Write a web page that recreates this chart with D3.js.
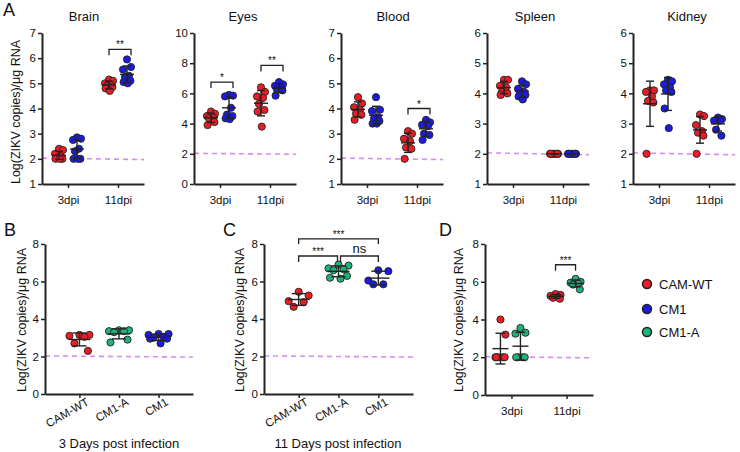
<!DOCTYPE html>
<html><head><meta charset="utf-8">
<script src="https://cdn.jsdelivr.net/npm/d3@7"></script>
<style>body{margin:0;background:#fff}svg{display:block;font-family:"Liberation Sans",Arial,sans-serif}</style>
</head><body><svg id="c" width="740" height="452"></svg>
<script>
// ---------- data ----------
const seriesNames = ["CAM-WT", "CM1", "CM1-A"];
const seriesColors = ["#ec1c24", "#1c1ce0", "#1fb27a"];
const organs = ["Brain", "Eyes", "Blood", "Spleen", "Kidney"];
const dpi = ["3dpi", "11dpi"];
const groupsBC = ["CAM-WT", "CM1-A", "CM1"];

// panel A: [3dpi values, 11dpi values]
const brainWT  = [[2.4, 2.35, 2.2, 2.1, 2.05, 2.0, 2.0, 2.0], [5.15, 5.1, 5.0, 4.95, 4.9, 4.85, 4.8, 4.7]];
const brainCM1 = [[2.85, 2.8, 2.75, 2.4, 2.3, 2.0, 2.0, 2.0], [5.95, 5.65, 5.55, 5.3, 5.25, 5.1, 5.05, 5.0]];
const eyesWT   = [[4.8, 4.65, 4.5, 4.4, 4.35, 4.1, 3.9], [6.4, 6.1, 5.8, 5.7, 5.3, 4.9, 4.8, 3.8]];
const eyesCM1  = [[5.9, 5.85, 5.8, 5.05, 4.6, 4.5, 4.35, 4.3], [6.75, 6.6, 6.5, 6.3, 6.25, 6.2, 5.85]];
const bloodWT  = [[4.45, 4.2, 4.05, 3.95, 3.8, 3.75, 3.55], [3.1, 3.0, 2.8, 2.7, 2.45, 2.4, 2.0]];
const bloodCM1 = [[4.45, 3.95, 3.9, 3.65, 3.6, 3.5, 3.4, 3.4], [3.55, 3.45, 3.35, 3.3, 3.0, 2.95, 2.75]];
const spleenWT = [[4.45, 4.45, 4.25, 4.2, 4.05, 4.0, 3.95], [2.0, 2.0, 2.0, 2.0, 2.0, 2.0, 2.0]];
const spleenCM1= [[4.4, 4.3, 4.15, 4.05, 4.0, 3.95, 3.9, 3.8], [2.0, 2.0, 2.0, 2.0, 2.0, 2.0, 2.0]];
const kidneyWT = [[4.1, 4.1, 4.05, 3.9, 3.75, 3.7, 2.0], [3.3, 3.25, 2.95, 2.75, 2.7, 2.6, 2.0]];
const kidneyCM1= [[4.45, 4.4, 4.3, 4.2, 4.1, 4.05, 3.5, 2.85], [3.2, 3.15, 3.1, 3.1, 2.8, 2.6]];

const brainTicks  = [1, 2, 3, 4, 5, 6, 7];
const eyesTicks   = [0, 2, 4, 6, 8, 10];
const bloodTicks  = [1, 2, 3, 4, 5, 6, 7];
const spleenTicks = [1, 2, 3, 4, 5, 6];
const kidneyTicks = [1, 2, 3, 4, 5, 6];

// significance: [timepoint index, bracket level, label]
const brainSig  = [[1, 6.35, "**"]];
const eyesSig   = [[0, 6.75, "*"], [1, 7.85, "**"]];
const bloodSig  = [[1, 4.0, "*"]];
const spleenSig = [];
const kidneySig = [];

// panel B (3 days) and C (11 days): order CAM-WT, CM1-A, CM1
const bValues = [[3.15, 3.15, 3.1, 3.05, 2.7, 2.3], [3.4, 3.4, 3.35, 3.35, 3.3, 2.9, 2.75], [3.2, 3.2, 3.15, 3.05, 3.0, 2.95, 2.95, 2.7]];
const cValues = [[5.45, 5.25, 4.95, 4.9, 4.65], [6.9, 6.85, 6.7, 6.65, 6.6, 6.3, 6.2, 6.15], [6.6, 6.55, 6.05, 5.85, 5.85]];
const bcTicks = [0, 2, 4, 6, 8];
// C brackets: [from group, to group, level, label]
const cSig = [["CAM-WT", "CM1", 8.27, "***"], ["CAM-WT", "CM1-A", 7.36, "***"], ["CM1-A", "CM1", 7.36, "ns"]];

// panel D: CAM-WT vs CM1-A at 3dpi / 11dpi
const dWT   = [[4.0, 3.2, 2.0, 2.0, 2.0, 2.0, 2.0], [5.35, 5.3, 5.25, 5.2, 5.15, 5.1]];
const dCM1A = [[3.55, 3.3, 3.25, 2.0, 2.0, 2.0, 2.0], [6.15, 6.0, 5.95, 5.9, 5.85, 5.6]];
const dTicks = [0, 2, 4, 6, 8];
const dSig = [[1, 6.9, "***"]];

const lodLine = [2.03, 1.97];
const yLabel = "Log(ZIKV copies)/μg RNA";

// ---------- drawing ----------
const svg = d3.select("#c");
const jitter = [0, 1, -1, 0.5, -0.5, 0.85, -0.85, 0.2, -0.2];

function frame(o) {
  const y = d3.scaleLinear().domain([o.ticks[0], o.ticks[o.ticks.length - 1]]).range([o.yB, o.yT]);
  const x = d3.scalePoint().domain(o.cats).range([o.x0, o.x0 + o.w]).padding(o.pad);
  const g = svg.append("g");
  // LOD line
  g.append("line").attr("x1", o.x0).attr("x2", o.x0 + o.w)
    .attr("y1", y(lodLine[0])).attr("y2", y(lodLine[1]))
    .attr("stroke", "#d68ef2").attr("stroke-width", 1.6).attr("stroke-dasharray", "5,4");
  const ya = g.append("g").attr("transform", `translate(${o.x0},0)`)
    .call(d3.axisLeft(y).tickValues(o.ticks).tickSize(4).tickSizeOuter(0).tickPadding(2).tickFormat(d3.format("d")));
  const xa = g.append("g").attr("transform", `translate(0,${o.yB})`)
    .call(d3.axisBottom(x).tickSize(4).tickSizeOuter(0).tickPadding(o.rotate ? 4 : 8));
  [ya, xa].forEach(a => {
    a.select(".domain").attr("stroke", "#222").attr("stroke-width", 2);
    a.selectAll(".tick line").attr("stroke", "#222").attr("stroke-width", 1.5);
    a.selectAll("text").attr("fill", "#111").style("font-size", "11.5px").style("font-family", "Liberation Sans, Arial, sans-serif");
  });
  if (o.rotate) {
    xa.selectAll("text").attr("text-anchor", "end").attr("dy", "0.5em").attr("dx", "0.3em")
      .attr("transform", "rotate(-30)");
  }
  return { x, y, g };
}

function dots(f, cat, values, color, off, spread, barHalf, capHalf) {
  const cx0 = f.x(cat) + off;
  const sorted = values.slice().sort((a, b) => b - a);
  f.g.append("g").selectAll("circle").data(sorted).join("circle")
    .attr("cx", (d, i) => cx0 + jitter[i % jitter.length] * spread)
    .attr("cy", d => f.y(d)).attr("r", 3.6)
    .attr("fill", color).attr("stroke", "#222").attr("stroke-width", 0.9);
  const m = d3.mean(values), s = d3.deviation(values) || 0;
  const eb = f.g.append("g").attr("stroke", "#222").attr("stroke-width", 1.4);
  eb.append("line").attr("x1", cx0).attr("x2", cx0).attr("y1", f.y(m - s)).attr("y2", f.y(m + s));
  eb.append("line").attr("x1", cx0 - barHalf).attr("x2", cx0 + barHalf).attr("y1", f.y(m)).attr("y2", f.y(m));
  [m - s, m + s].forEach(v => eb.append("line").attr("x1", cx0 - capHalf).attr("x2", cx0 + capHalf).attr("y1", f.y(v)).attr("y2", f.y(v)));
}

function bracket(f, xa, xb, level, label, leg) {
  const yy = f.y(level);
  f.g.append("path").attr("d", `M${xa},${yy + leg}V${yy}H${xb}V${yy + leg}`)
    .attr("fill", "none").attr("stroke", "#222").attr("stroke-width", 1.3);
  const ns = label === "ns";
  f.g.append("text").attr("x", (xa + xb) / 2).attr("y", yy - (ns ? 3 : 1)).attr("text-anchor", "middle")
    .style("font-size", ns ? "13px" : "10px").attr("fill", "#111").text(label);
}

// ---- Panel A ----
const aX0 = [42, 194, 341, 487, 633];
const aTitleX = [84, 243, 393, 535, 687];
const aData = [[brainWT, brainCM1, brainTicks, brainSig], [eyesWT, eyesCM1, eyesTicks, eyesSig],
  [bloodWT, bloodCM1, bloodTicks, bloodSig], [spleenWT, spleenCM1, spleenTicks, spleenSig],
  [kidneyWT, kidneyCM1, kidneyTicks, kidneySig]];
organs.forEach((name, k) => {
  const [wt, cm, ticks, sig] = aData[k];
  const f = frame({ x0: aX0[k], w: 102, yT: 33, yB: 184, ticks, cats: dpi, pad: 0.52 });
  dpi.forEach((t, j) => {
    dots(f, t, wt[j], seriesColors[0], -9, 4, 7, 4);
    dots(f, t, cm[j], seriesColors[1], 9, 4, 7, 4);
  });
  sig.forEach(([j, lv, lab]) => bracket(f, f.x(dpi[j]) - 9, f.x(dpi[j]) + 9 + 4, lv, lab, 6));
  svg.append("text").attr("x", aTitleX[k]).attr("y", 21).attr("text-anchor", "middle")
    .style("font-size", "13px").attr("fill", "#111").text(name);
});
svg.append("text").attr("transform", "translate(20,112) rotate(-90)").attr("text-anchor", "middle")
  .style("font-size", "12.5px").attr("fill", "#111").text(yLabel);

// ---- Panel B ----
const fB = frame({ x0: 45, w: 148, yT: 244, yB: 394, ticks: bcTicks, cats: groupsBC, pad: 0.87, rotate: true });
const bcColor = [seriesColors[0], seriesColors[2], seriesColors[1]];
groupsBC.forEach((gname, i) => dots(fB, gname, bValues[i], bcColor[i], 0, 10, 11, 7));
svg.append("text").attr("transform", "translate(26,320) rotate(-90)").attr("text-anchor", "middle")
  .style("font-size", "12.5px").attr("fill", "#111").text(yLabel);
svg.append("text").attr("x", 119).attr("y", 448).attr("text-anchor", "middle").style("font-size", "13px").attr("fill", "#111").text("3 Days post infection");

// ---- Panel C ----
const fC = frame({ x0: 264, w: 149, yT: 244, yB: 394, ticks: bcTicks, cats: groupsBC, pad: 0.87, rotate: true });
groupsBC.forEach((gname, i) => dots(fC, gname, cValues[i], bcColor[i], 0, 10, 11, 7));
cSig.forEach(([a, b, lv, lab], i) => bracket(fC, fC.x(a) + (a === "CM1-A" ? 2 : 0), fC.x(b) - (b === "CM1-A" ? 1 : 0), lv, lab, i === 0 ? 5 : 6));
svg.append("text").attr("transform", "translate(244,320) rotate(-90)").attr("text-anchor", "middle")
  .style("font-size", "12.5px").attr("fill", "#111").text(yLabel);
svg.append("text").attr("x", 338).attr("y", 448).attr("text-anchor", "middle").style("font-size", "13px").attr("fill", "#111").text("11 Days post infection");

// ---- Panel D ----
const fD = frame({ x0: 485, w: 108, yT: 244, yB: 395, ticks: dTicks, cats: dpi, pad: 0.48 });
dpi.forEach((t, j) => {
  dots(fD, t, dWT[j], seriesColors[0], -11, 5, 8, 5);
  dots(fD, t, dCM1A[j], seriesColors[2], 9, 5, 8, 5);
});
dSig.forEach(([j, lv, lab]) => bracket(fD, fD.x(dpi[j]) - 11, fD.x(dpi[j]) + 9, lv, lab, 6));
svg.append("text").attr("transform", "translate(463,320) rotate(-90)").attr("text-anchor", "middle")
  .style("font-size", "12.5px").attr("fill", "#111").text(yLabel);

// ---- Panel letters ----
[["A", 3, 16], ["B", 4, 236], ["C", 223, 236], ["D", 439, 236]].forEach(([t, x, y]) =>
  svg.append("text").attr("x", x).attr("y", y).style("font-size", "18px").attr("fill", "#111").text(t));

// ---- Legend ----
const legY = [284, 309, 332];
const leg = svg.append("g");
seriesNames.forEach((n, i) => {
  leg.append("circle").attr("cx", 647).attr("cy", legY[i]).attr("r", 4.5)
    .attr("fill", seriesColors[i]).attr("stroke", "#222").attr("stroke-width", 1.5);
  leg.append("text").attr("x", 659).attr("y", legY[i] + 4.5).style("font-size", "13px").attr("fill", "#111").text(n);
});
</script></body></html>
